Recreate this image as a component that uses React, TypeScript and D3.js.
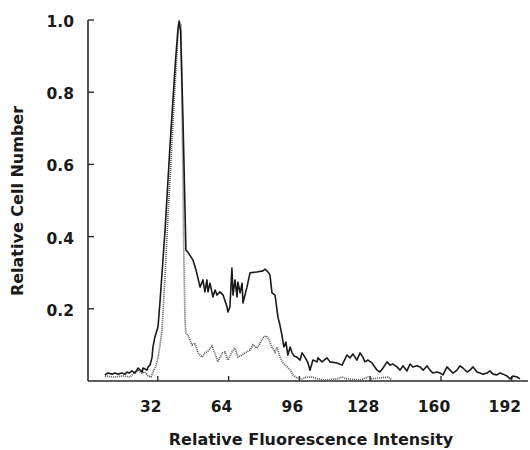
import React from "react";
import * as d3 from "d3";

const xTicks = [32, 64, 96, 128, 160, 192];
const yTicks = [0.2, 0.4, 0.6, 0.8, 1.0];
const xTitle = "Relative Fluorescence Intensity";
const yTitle = "Relative Cell Number";

// Solid histogram (channel, relative count)
const solidX = [8.1, 9.5, 11.3, 12.7, 14.0, 15.8, 17.2, 18.1, 19.0, 20.3, 21.7, 23.1, 24.9, 25.3, 27.1, 27.6, 28.5, 29.4, 29.8, 30.7, 32.1, 33.0, 35.3, 37.5, 39.8, 41.1, 41.6, 42.3, 43.4, 44.7, 45.6, 47.9, 49.3, 51.1, 52.4, 53.3, 54.2, 54.7, 55.6, 56.9, 57.9, 58.8, 60.1, 61.5, 63.3, 63.7, 64.6, 65.5, 66.0, 66.9, 67.8, 68.2, 69.2, 70.1, 70.5, 72.3, 73.7, 76.8, 79.5, 80.5, 81.8, 82.7, 83.6, 85.0, 86.3, 87.2, 88.1, 89.0, 89.9, 90.8, 91.8, 92.7, 93.6, 94.9, 96.3, 97.2, 98.5, 99.9, 100.8, 102.1, 104.0, 104.4, 106.2, 108.5, 109.8, 113.0, 115.3, 117.5, 118.9, 120.2, 122.0, 123.4, 124.7, 125.6, 127.0, 128.8, 131.1, 132.4, 133.8, 135.6, 137.0, 138.3, 140.1, 141.5, 142.8, 144.6, 146.0, 147.3, 149.2, 150.5, 151.9, 153.7, 155.0, 156.4, 158.2, 159.5, 160.9, 162.7, 164.1, 165.4, 167.2, 168.6, 169.9, 171.8, 173.1, 174.5, 176.3, 177.6, 179.0, 180.8, 182.1, 183.5, 185.3, 186.7, 188.0, 189.8, 191.2, 192.5, 194.4, 195.7];
const solidY = [0.017, 0.022, 0.019, 0.022, 0.019, 0.022, 0.019, 0.025, 0.022, 0.028, 0.022, 0.036, 0.025, 0.036, 0.030, 0.039, 0.044, 0.066, 0.094, 0.122, 0.15, 0.22, 0.42, 0.65, 0.87, 0.975, 0.995, 0.97, 0.72, 0.363, 0.357, 0.335, 0.307, 0.26, 0.28, 0.247, 0.28, 0.247, 0.271, 0.233, 0.252, 0.238, 0.247, 0.238, 0.205, 0.191, 0.205, 0.313, 0.238, 0.28, 0.233, 0.274, 0.244, 0.271, 0.216, 0.26, 0.30, 0.302, 0.305, 0.31, 0.302, 0.294, 0.244, 0.238, 0.177, 0.155, 0.127, 0.094, 0.108, 0.072, 0.094, 0.078, 0.069, 0.066, 0.058, 0.078, 0.066, 0.05, 0.03, 0.058, 0.053, 0.064, 0.053, 0.064, 0.053, 0.05, 0.044, 0.072, 0.064, 0.075, 0.058, 0.078, 0.066, 0.053, 0.058, 0.05, 0.03, 0.025, 0.036, 0.053, 0.044, 0.047, 0.039, 0.03, 0.042, 0.028, 0.047, 0.039, 0.042, 0.039, 0.03, 0.042, 0.03, 0.022, 0.025, 0.022, 0.017, 0.039, 0.03, 0.022, 0.03, 0.042, 0.036, 0.025, 0.03, 0.039, 0.025, 0.022, 0.019, 0.022, 0.028, 0.019, 0.017, 0.022, 0.019, 0.014, 0.006, 0.014, 0.011, 0.006];

// Dotted histogram (channel, relative count)
const dottedX = [8.1, 11.8, 16.3, 19.4, 21.7, 23.1, 24.9, 26.2, 27.6, 28.9, 29.8, 31.2, 32.1, 33.0, 33.9, 35.3, 36.6, 38.0, 39.3, 40.7, 41.6, 42.5, 42.9, 43.4, 43.8, 44.3, 44.7, 45.6, 47.5, 48.8, 50.2, 52.0, 53.3, 54.7, 56.5, 57.9, 59.2, 61.0, 62.4, 63.7, 65.5, 66.9, 68.2, 70.1, 71.4, 73.7, 75.0, 76.8, 78.2, 79.5, 80.9, 81.8, 83.6, 85.0, 85.9, 87.2, 88.6, 90.4, 91.8, 93.1, 94.9, 97.2, 99.4, 101.7, 104.0, 107.6, 113.0, 115.3, 117.5, 123.4, 127.0, 128.8, 136.0, 137.9];
const dottedY = [0.014, 0.011, 0.014, 0.011, 0.025, 0.03, 0.022, 0.025, 0.014, 0.011, 0.025, 0.042, 0.064, 0.10, 0.141, 0.294, 0.46, 0.612, 0.765, 0.917, 1.0, 0.986, 0.778, 0.557, 0.335, 0.169, 0.133, 0.127, 0.10, 0.105, 0.078, 0.066, 0.078, 0.083, 0.097, 0.075, 0.053, 0.078, 0.08, 0.058, 0.08, 0.091, 0.066, 0.072, 0.078, 0.086, 0.10, 0.091, 0.105, 0.119, 0.125, 0.119, 0.094, 0.08, 0.094, 0.066, 0.05, 0.039, 0.03, 0.017, 0.008, 0.006, 0.011, 0.011, 0.006, 0.003, 0.006, 0.011, 0.006, 0.003, 0.011, 0.006, 0.011, 0.003];

const FONT = "'DejaVu Sans', sans-serif";

export default function App() {
  const width = 530;
  const height = 450;
  const x = d3.scaleLinear().domain([0, 192]).range([87, 511.8]);
  const y = d3.scaleLinear().domain([0, 1]).range([381, 20]);

  const line = d3
    .line<[number, number]>()
    .x((d) => x(d[0]))
    .y((d) => y(d[1]));

  const solid: [number, number][] = solidX.map((v, i) => [v, solidY[i]]);
  const dotted: [number, number][] = dottedX.map((v, i) => [v, dottedY[i]]);

  const axisColor = "#2a2a2a";

  return (
    <svg
      width={width}
      height={height}
      style={{ position: "absolute", left: 0, top: 0, background: "#fff" }}
    >
      {/* axes */}
      <line x1={x(0) + 1} x2={528} y1={y(0)} y2={y(0)} stroke={axisColor} strokeWidth={1.6} />
      <line x1={x(0) + 1} x2={x(0) + 1} y1={y(0)} y2={y(1)} stroke={axisColor} strokeWidth={1.6} />
      {yTicks.map((t) => (
        <g key={"y" + t}>
          <line x1={x(0) + 1} x2={x(0) + 7} y1={y(t)} y2={y(t)} stroke={axisColor} strokeWidth={1.4} />
          <text
            x={74}
            y={y(t) + 7}
            textAnchor="end"
            fontFamily={FONT}
            fontWeight="bold"
            fontSize={15.5}
            fill="#1a1a1a"
          >
            {t.toFixed(1)}
          </text>
        </g>
      ))}
      {xTicks.map((t) => (
        <g key={"x" + t}>
          <line x1={x(t)} x2={x(t)} y1={y(0)} y2={y(0) - 5} stroke={axisColor} strokeWidth={1.4} />
          <text
            x={x(t) - 7}
            y={411.5}
            textAnchor="middle"
            fontFamily={FONT}
            fontWeight="bold"
            fontSize={15.5}
            fill="#1a1a1a"
          >
            {t}
          </text>
        </g>
      ))}
      <text
        x={311}
        y={445}
        textAnchor="middle"
        fontFamily={FONT}
        fontWeight="bold"
        fontSize={16}
        fill="#1a1a1a"
      >
        {xTitle}
      </text>
      <text
        transform={`translate(23,201) rotate(-90)`}
        textAnchor="middle"
        fontFamily={FONT}
        fontWeight="bold"
        fontSize={16}
        fill="#1a1a1a"
      >
        {yTitle}
      </text>

      {/* series */}
      <path
        d={line(dotted) || ""}
        fill="none"
        stroke="#555"
        strokeWidth={1.7}
        strokeDasharray="1 1"
      />
      <path d={line(solid) || ""} fill="none" stroke="#1a1a1a" strokeWidth={1.6} strokeLinejoin="round" />
    </svg>
  );
}
